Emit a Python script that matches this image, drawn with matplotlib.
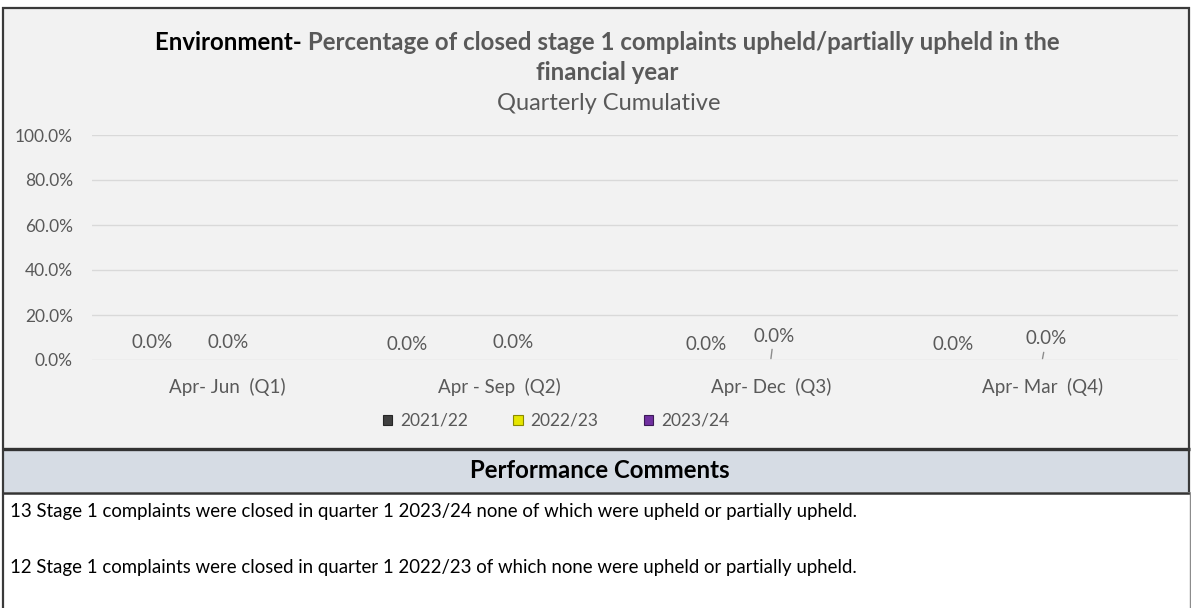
import numpy as np
import matplotlib
matplotlib.use("Agg")
import matplotlib.pyplot as plt
from matplotlib.patches import Rectangle, Patch
from matplotlib.lines import Line2D

# ---- data -------------------------------------------------------------
quarters = ["Apr- Jun  (Q1)", "Apr - Sep  (Q2)", "Apr- Dec  (Q3)", "Apr- Mar  (Q4)"]
years = ["2021/22", "2022/23", "2023/24"]
pct_2021_22 = [0.0, 0.0, 0.0, 0.0]
pct_2022_23 = [0.0, 0.0, 0.0, 0.0]
pct_2023_24 = [0.0, np.nan, np.nan, np.nan]
y_ticks = [0, 20, 40, 60, 80, 100]
title_lead = "Environment- "
title_rest = "Percentage of closed stage 1 complaints upheld/partially upheld in the"
title_line2 = "financial year"
subtitle = "Quarterly Cumulative"
comments_header = "Performance Comments"
comments = [
    "13 Stage 1 complaints were closed in quarter 1 2023/24 none of which were upheld or partially upheld.",
    "12 Stage 1 complaints were closed in quarter 1 2022/23 of which none were upheld or partially upheld.",
]

# ---- styling ----------------------------------------------------------
series_colors = ["#404040", "#e6e600", "#7030a0"]
series_edges = ["#262626", "#8a8a00", "#3c1a57"]
text_grey = "#595959"
FONT = ["Lato", "DejaVu Sans"]
plt.rcParams["font.family"] = FONT

W, H, DPI = 1191, 608, 100
fig = plt.figure(figsize=(W / DPI, H / DPI), dpi=DPI, facecolor="white")


def fx(px):
    return px / W


def fy(py):
    return 1 - py / H


# panel backgrounds
fig.add_artist(Rectangle((fx(3), fy(448)), fx(1189) - fx(3), fy(8) - fy(448),
                         transform=fig.transFigure, facecolor="#f2f2f2",
                         edgecolor="none", zorder=0))
fig.add_artist(Rectangle((fx(3), fy(492)), fx(1189) - fx(3), fy(449) - fy(492),
                         transform=fig.transFigure, facecolor="#d6dce4",
                         edgecolor="none", zorder=0))


# frame lines
def hline(py, x0, x1, lw, color):
    fig.add_artist(Line2D([fx(x0), fx(x1)], [fy(py), fy(py)], transform=fig.transFigure,
                          color=color, lw=lw, solid_capstyle="butt", zorder=5))


def vline(px, y0, y1, lw, color):
    fig.add_artist(Line2D([fx(px), fx(px)], [fy(y0), fy(y1)], transform=fig.transFigure,
                          color=color, lw=lw, solid_capstyle="butt", zorder=5))


hline(8, 2, 1190, 1.6, "#3a3a3a")
hline(448.5, 2, 1190, 2.4, "#333333")
hline(492.5, 2, 1190, 1.8, "#333333")
vline(3, 7, 608, 1.6, "#3a3a3a")
vline(1189, 7, 492, 1.6, "#3a3a3a")
vline(1189.5, 492, 608, 1.0, "#8c8c8c")

# ---- chart ------------------------------------------------------------
ax = fig.add_axes([fx(92), fy(360), fx(1178) - fx(92), fy(135) - fy(360)])
ax.set_facecolor("none")
ax.set_xlim(-0.5, len(quarters) - 0.5)
ax.set_ylim(0, 100)

x = np.arange(len(quarters))
bar_w = 0.27
offsets = [-bar_w, 0.0, bar_w]
series = [pct_2021_22, pct_2022_23, pct_2023_24]
for vals, off, col, ec, name in zip(series, offsets, series_colors, series_edges, years):
    ax.bar(x + off, vals, width=bar_w, color=col, edgecolor=ec,
           linewidth=0.6, label=name, zorder=3)

ax.set_yticks(y_ticks)
ax.set_yticklabels([f"{v:.1f}%" for v in y_ticks])
ax.grid(axis="y", color="#d9d9d9", lw=1.0, zorder=0)
ax.set_xticks(x)
ax.set_xticklabels(quarters)
ax.tick_params(axis="both", length=0, colors=text_grey)
ax.tick_params(axis="y", labelsize=12.5, pad=13.7)
ax.tick_params(axis="x", labelsize=13.5, pad=12.6)
for s in ax.spines.values():
    s.set_visible(False)

# data labels (Excel-style, manually nudged in pixels)
label_shift = {
    0: [(-2, 17), (-19, 15), (9, 15), (-16, 15)],
    1: [(0, 17), (14, 18), (3, 24), (4, 21)],
}
leader = {1: [False, False, True, True]}
for si, shifts in label_shift.items():
    for qi, (dx, dy) in enumerate(shifts):
        val = series[si][qi]
        bx = x[qi] + offsets[si]
        arrow = None
        if leader.get(si, [False] * 4)[qi]:
            arrow = dict(arrowstyle="-", color="#8c8c8c", lw=1.0, shrinkA=1.5, shrinkB=1.0)
        ax.annotate(f"{val:.1f}%", xy=(bx, val), xytext=(dx, dy),
                    textcoords="offset pixels", ha="center", va="center",
                    fontsize=13.5, color=text_grey, arrowprops=arrow, zorder=4)

# legend
handles = [Patch(facecolor=c, edgecolor=e, lw=0.8) for c, e in zip(series_colors, series_edges)]
fig.legend(handles, years, loc="center", bbox_to_anchor=(fx(556), fy(421)), ncol=3,
           frameon=False, fontsize=12.5, labelcolor=text_grey, handlelength=0.55,
           handleheight=0.55, handletextpad=0.45, columnspacing=2.6)

# ---- titles -----------------------------------------------------------
t1 = fig.text(0, fy(43), title_lead, fontsize=17.3, fontweight="bold", color="black",
              ha="left", va="center")
t2 = fig.text(0, fy(43), title_rest, fontsize=17.3, fontweight="bold", color=text_grey,
              ha="left", va="center")
fig.canvas.draw()
r = fig.canvas.get_renderer()
w1 = t1.get_window_extent(r).width
w2 = t2.get_window_extent(r).width
start = 607 - (w1 + w2) / 2
t1.set_x(fx(start))
t2.set_x(fx(start + w1))
fig.text(fx(607), fy(73), title_line2, fontsize=17.3, fontweight="bold", color=text_grey,
         ha="center", va="center")
fig.text(fx(609), fy(104), subtitle, fontsize=17, color=text_grey, ha="center", va="center")

# ---- comments panel ---------------------------------------------------
fig.text(fx(600), fy(471), comments_header, fontsize=17.3, fontweight="bold", color="black",
         ha="center", va="center")
for txt, py in zip(comments, [512, 567]):
    fig.text(fx(10), fy(py), txt, fontsize=13.4, color="black", ha="left", va="center")

fig.savefig("out.png", dpi=DPI, facecolor="white")
